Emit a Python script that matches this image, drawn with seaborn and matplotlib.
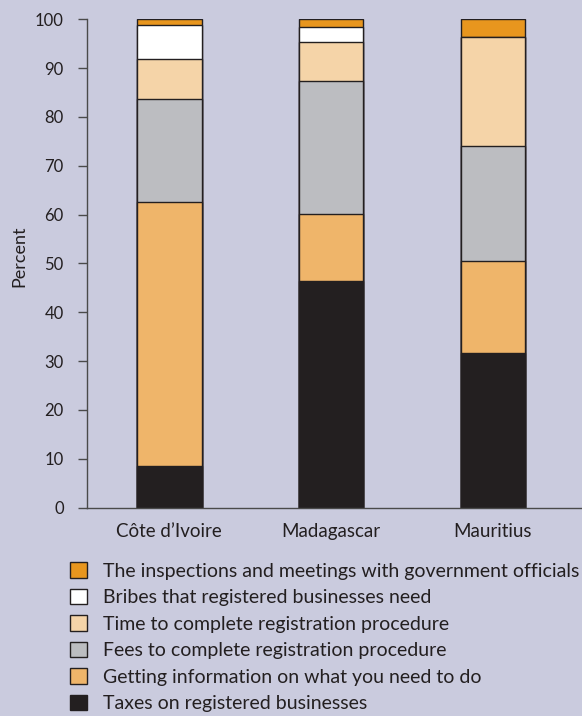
import matplotlib
matplotlib.use("Agg")
import matplotlib.pyplot as plt
import seaborn as sns
import numpy as np
from matplotlib.patches import Patch

categories = ["Côte d’Ivoire", "Madagascar", "Mauritius"]
series_names = [
    "Taxes on registered businesses",
    "Getting information on what you need to do",
    "Fees to complete registration procedure",
    "Time to complete registration procedure",
    "Bribes that registered businesses need",
    "The inspections and meetings with government officials",
]
taxes = [8.5, 46.5, 31.7]
information = [54.1, 13.6, 18.7]
fees = [21.0, 27.3, 23.7]
time_reg = [8.2, 7.9, 22.2]
bribes = [7.1, 3.1, 0.0]
inspections = [1.1, 1.6, 3.7]
yticks = [0, 10, 20, 30, 40, 50, 60, 70, 80, 90, 100]

colors = ["#231F20", "#EFB56A", "#BCBDC1", "#F5D4A8", "#FFFFFF", "#E8961E"]
bg = "#CACBDE"
edge = "#231F20"

sns.set_theme(style="white")
plt.rcParams["font.family"] = ["Lato", "DejaVu Sans"]

fig = plt.figure(figsize=(5.82, 7.16), dpi=100, facecolor=bg)
ax = fig.add_axes([0.149, 0.2912, 0.851, 0.6818])
ax.set_facecolor(bg)

series = [taxes, information, fees, time_reg, bribes, inspections]
cum = np.cumsum(np.array(series), axis=0)
# draw from the top of the stack down so lower segments overlay upper totals
for i in range(len(series) - 1, -1, -1):
    sns.barplot(x=categories, y=cum[i], color=colors[i], saturation=1,
                width=0.4, edgecolor=edge, linewidth=1.0, ax=ax)

ax.set_ylim(0, 100)
ax.set_xlim(-0.51, 2.55)
ax.set_yticks(yticks)
ax.set_yticklabels([str(v) for v in yticks])
ax.set_ylabel("Percent", fontsize=13, color="#231F20", va="center")
ax.yaxis.set_label_coords(-0.1367, 0.515)
ax.set_xlabel("")
for s in ["top", "right"]:
    ax.spines[s].set_visible(False)
for s in ["left", "bottom"]:
    ax.spines[s].set_color("#4a4a4a")
    ax.spines[s].set_linewidth(1.0)
ax.tick_params(axis="y", length=6.5, width=1.0, color="#4a4a4a", pad=10,
               labelsize=12, labelcolor="#231F20", left=True)
ax.tick_params(axis="x", length=0, pad=11, labelsize=13.5, labelcolor="#231F20")

handles = [Patch(facecolor=colors[i], edgecolor=edge, linewidth=1.0, label=series_names[i])
           for i in range(len(series) - 1, -1, -1)]
fig.legend(handles=handles, loc="upper left", bbox_to_anchor=(0.1203, 0.215),
           frameon=False, fontsize=14, handlelength=0.86, handleheight=0.86,
           handletextpad=0.84, labelspacing=0.46, borderaxespad=0, borderpad=0,
           labelcolor="#231F20")

fig.savefig("out.png", dpi=100, facecolor=bg)
